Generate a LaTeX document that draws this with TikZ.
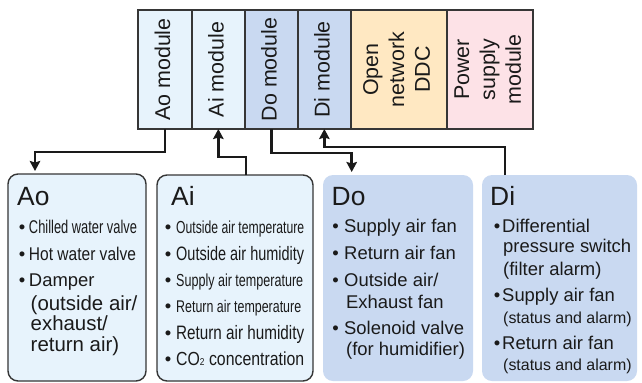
\documentclass[tikz,border=0pt]{standalone}
\usepackage{fontspec}
\setmainfont{Liberation Sans}
\usepackage{graphicx}
\usetikzlibrary{arrows.meta}

\definecolor{paleblue}{HTML}{E7F3FC}
\definecolor{midblue}{HTML}{C9D9F1}
\definecolor{paleorange}{HTML}{FFE8C2}
\definecolor{palepink}{HTML}{FDE2E7}
\definecolor{edge}{HTML}{363636}
\definecolor{ink}{HTML}{1A1A1A}

% squeeze a text horizontally to a given width, keeping its height
\newcommand\squeezeto[2]{\resizebox{#1}{\height}{#2}}
\newcommand\vlabel[1]{\rotatebox{90}{\begin{tabular}{@{}c@{}}#1\end{tabular}}}
\newcommand\fs[1]{\fontsize{#1}{#1}\selectfont}

\begin{document}
\begin{tikzpicture}[x=1bp,y=-1bp,
  modcell/.style={draw=edge,line width=1.7bp,inner sep=0pt,outer sep=0pt,
    minimum height=119bp,font=\fontsize{21.5}{26}\selectfont,text=ink},
  lightbox/.style={draw=edge,line width=1.4bp,fill=paleblue,rounded corners=10bp,
    inner sep=0pt,outer sep=0pt},
  darkbox/.style={fill=midblue,rounded corners=10bp,inner sep=0pt,outer sep=0pt},
  boxtitle/.style={anchor=base west,inner sep=0pt,font=\fontsize{26.5}{30}\selectfont,text=ink},
  item/.style={anchor=base west,inner sep=0pt,font=\fontsize{18.5}{22}\selectfont,text=ink},
  smallitem/.style={item,font=\fontsize{16}{20}\selectfont},
  dot/.style={anchor=base,inner sep=0pt,font=\fontsize{18.5}{22}\selectfont,text=ink},
  link/.style={draw=ink,line width=2.5bp,-{Stealth[length=10bp,width=10.5bp,inset=1.5bp]}},
]
\fill[white] (0,0) rectangle (642,382);
\useasboundingbox (0,0) rectangle (642,382);

% ---- controller modules ----
\node[modcell,fill=paleblue,minimum width=53.7bp]   (aoMod)  at (164.85,69.5) {\vlabel{Ao module}};
\node[modcell,fill=paleblue,minimum width=53.3bp]   (aiMod)  at (218.35,69.5) {\vlabel{Ai module}};
\node[modcell,fill=midblue,minimum width=52.7bp]    (doMod)  at (271.35,69.5) {\vlabel{Do module}};
\node[modcell,fill=midblue,minimum width=53.3bp]    (diMod)  at (324.35,69.5) {\vlabel{Di module}};
\node[modcell,fill=paleorange,minimum width=95.7bp] (ddcMod) at (398.85,69.5) {\vlabel{Open\\network\\DDC}};
\node[modcell,fill=palepink,minimum width=86.3bp]   (pwrMod) at (489.85,69.5) {\vlabel{Power\\supply\\module}};

% ---- signal boxes ----
\node[lightbox,minimum width=138bp,minimum height=207bp] (aoBox) at (77,277.5) {};
\node[lightbox,minimum width=156bp,minimum height=206bp] (aiBox) at (235,278) {};
\node[darkbox,minimum width=150bp,minimum height=206bp]  (doBox) at (398,278) {};
\node[darkbox,minimum width=155bp,minimum height=206bp]  (diBox) at (559.5,278) {};

% Ao
\node[boxtitle] (aoTitle) at (17,205) {Ao};
\node[dot] (aoB1) at (22,233) {•};
\node[item] (aoT1) at (28.8,233) {\squeezeto{108bp}{Chilled water valve}};
\node[dot] (aoB2) at (22,260) {•};
\node[item] (aoT2) at (28.8,260) {\squeezeto{107bp}{Hot water valve}};
\node[dot] (aoB3) at (22,286) {•};
\node[item] (aoT3) at (28.8,286) {Damper};
\node[item,font=\fs{20.5}] (aoT3b) at (30.5,310) {(outside air/};
\node[item,font=\fs{20.5}] (aoT3c) at (30.5,330.5) {exhaust/};
\node[item,font=\fs{20.5}] (aoT3d) at (30.5,351) {return air)};

% Ai
\node[boxtitle] (aiTitle) at (171,205) {Ai};
\node[dot] (aiB1) at (168,233) {•};
\node[item,font=\fs{17.5}] (aiT1) at (176,233) {\squeezeto{128bp}{Outside air temperature}};
\node[dot] (aiB2) at (168,260) {•};
\node[item,font=\fs{19.5}] (aiT2) at (176,260) {\squeezeto{128bp}{Outside air humidity}};
\node[dot] (aiB3) at (168,286.7) {•};
\node[item,font=\fs{17.5}] (aiT3) at (176,286.7) {\squeezeto{127bp}{Supply air temperature}};
\node[dot] (aiB4) at (168,312.7) {•};
\node[item,font=\fs{17}] (aiT4) at (176,312.7) {\squeezeto{125bp}{Return air temperature}};
\node[dot] (aiB5) at (168,339.3) {•};
\node[item,font=\fs{19.5}] (aiT5) at (176,339.3) {\squeezeto{128bp}{Return air humidity}};
\node[dot] (aiB6) at (168,365.3) {•};
\node[item,font=\fs{19}] (aiT6) at (176,365.3) {\squeezeto{128bp}{CO{\fs{10}2} concentration}};

% Do
\node[boxtitle] (doTitle) at (331.5,205) {Do};
\node[dot] (doB1) at (335.5,232.7) {•};
\node[item] (doT1) at (344,232.7) {Supply air fan};
\node[dot] (doB2) at (335.5,259.3) {•};
\node[item] (doT2) at (344,259.3) {Return air fan};
\node[dot] (doB3) at (335.5,286) {•};
\node[item] (doT3) at (344,286) {Outside air/};
\node[item] (doT3b) at (346,308) {Exhaust fan};
\node[dot] (doB4) at (335.5,334) {•};
\node[item] (doT4) at (344,334) {Solenoid valve};
\node[item] (doT4b) at (346,355) {(for humidifier)};

% Di
\node[boxtitle] (diTitle) at (490,205) {Di};
\node[dot] (diB1) at (497,232.7) {•};
\node[item] (diT1) at (502,232.7) {Differential};
\node[item] (diT1b) at (503,252.7) {pressure switch};
\node[item] (diT1c) at (503,275.7) {(filter alarm)};
\node[dot] (diB2) at (497,301.7) {•};
\node[item] (diT2) at (502,301.7) {Supply air fan};
\node[smallitem] (diT2b) at (503,323) {(status and alarm)};
\node[dot] (diB3) at (497,349) {•};
\node[item] (diT3) at (502,349) {Return air fan};
\node[smallitem] (diT3b) at (503,370.7) {(status and alarm)};

% ---- connectors ----
\coordinate (aoBend) at (35,152);
\coordinate (aiBend) at (246,157);
\coordinate (doBend) at (351.7,153);
\coordinate (diBend) at (505,147);
\draw[link,shorten >=3bp] (aoMod.south) |- (aoBend) -- (aoBend |- aoBox.north);
\draw[link] (aiBend |- aiBox.north) -- (aiBend) -| (aiMod.south);
\draw[link,shorten >=3bp] (doMod.south) |- (doBend) -- (doBend |- doBox.north);
\draw[link] (diBend |- diBox.north) -- (diBend) -| (diMod.south);
\end{tikzpicture}
\end{document}
